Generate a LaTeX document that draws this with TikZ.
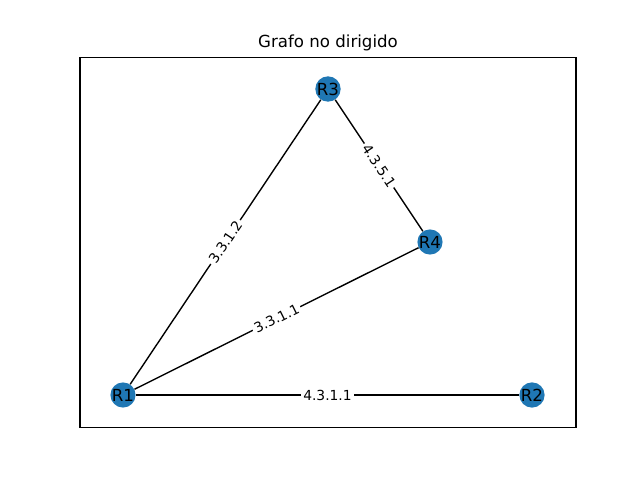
\documentclass[tikz,border=0pt]{standalone}
\usepackage{fontspec}
\setmainfont{DejaVu Sans}
\definecolor{nodecolor}{RGB}{31, 119, 180}

\begin{document}
\begin{tikzpicture}[%
        % one unit is one pixel of the figure, y downwards
        x=0.01in,y=-0.01in,
        router/.style={circle,fill=nodecolor,minimum size=17.3pt,inner sep=0pt,font=\fontsize{12}{14}\selectfont},
        link/.style={black,line width=1pt},
        linklabel/.style={midway,sloped,fill=white,inner sep=1.5pt,font=\fontsize{10}{12}\selectfont}
        ]

        \useasboundingbox (0,0) rectangle (640,480);

        % axes frame and title
        \draw[line width=0.8pt] (80,57.6) rectangle (576,427.2);
        \node[font=\fontsize{12}{14}\selectfont] (title) at (328,43) {Grafo no dirigido};

        % routers
        \node[router] (R3) at (328,89) {R3};
        \node[router] (R4) at (430,242) {R4};
        \node[router] (R1) at (123,395) {R1};
        \node[router] (R2) at (532,395) {R2};

        % links
        \draw[link] (R1) -- (R3) node[linklabel] {3.3.1.2};
        \draw[link] (R3) -- (R4) node[linklabel] {4.3.5.1};
        \draw[link] (R1) -- (R4) node[linklabel] {3.3.1.1};
        \draw[link] (R1) -- (R2) node[linklabel] {4.3.1.1};

    \end{tikzpicture}
\end{document}
